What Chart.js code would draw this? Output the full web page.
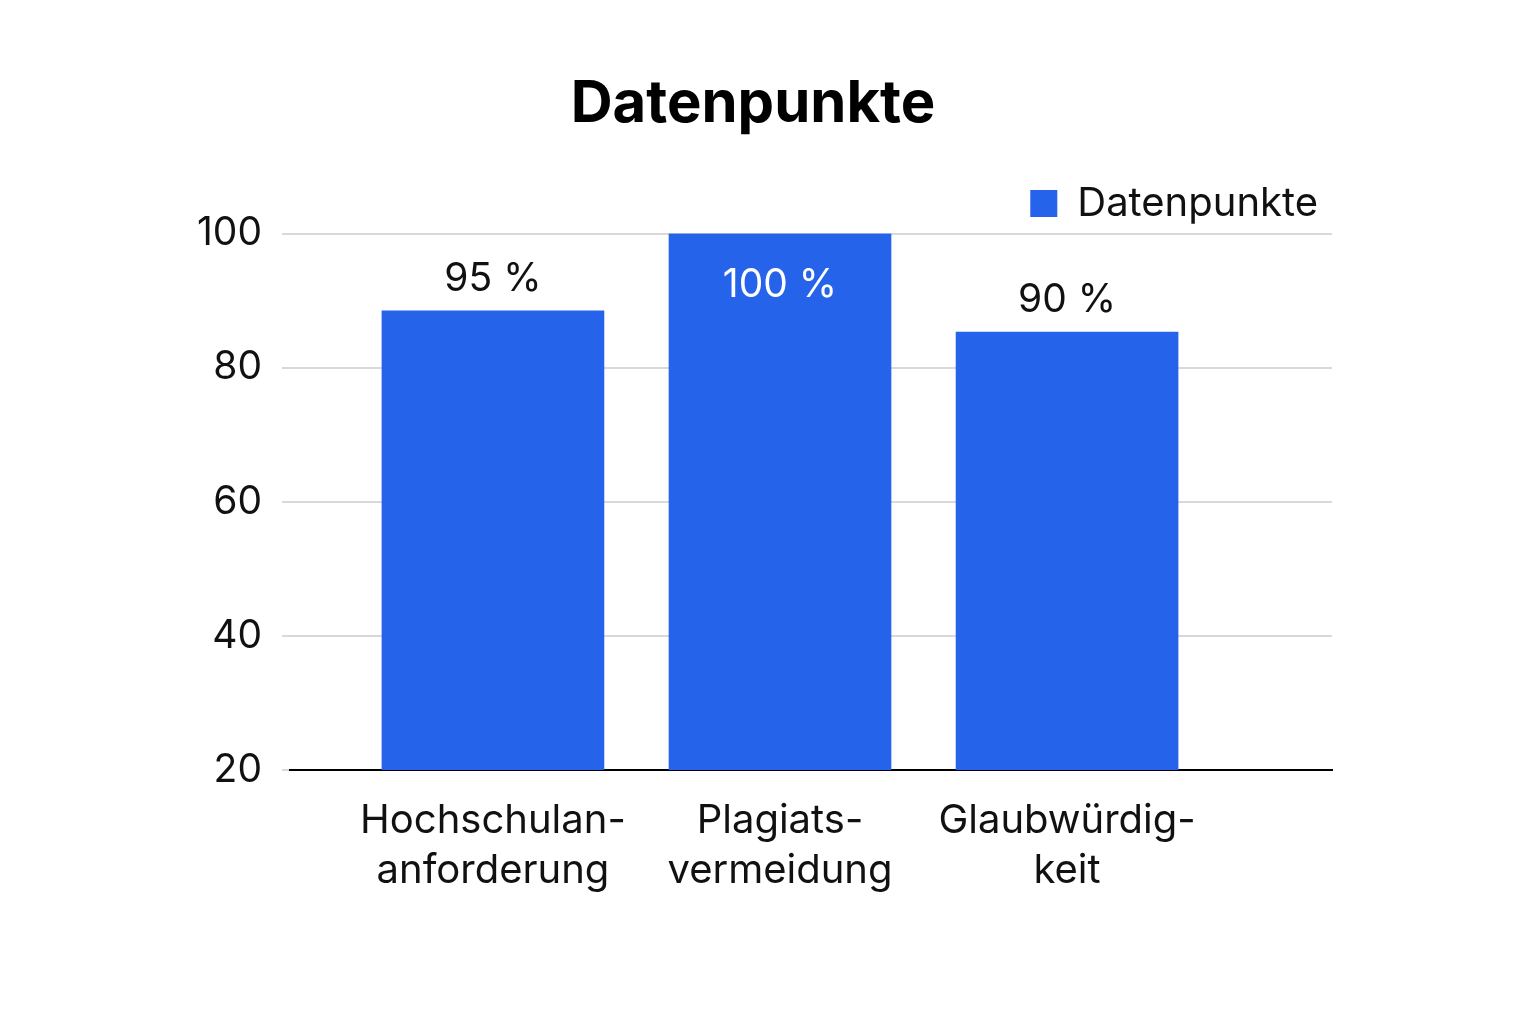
<!DOCTYPE html>
<html><head><meta charset="utf-8">
<script src="https://cdn.jsdelivr.net/npm/chart.js@4"></script>
<style>html,body{margin:0;background:#fff}#w{width:1536px;height:1024px}</style>
</head><body><div id="w"><canvas id="c"></canvas></div>
<script>
const categories = [["Hochschulan-","anforderung"],["Plagiats-","vermeidung"],["Glaubwürdig-","keit"]];
const values = [88.5, 100, 85.3];
const valueLabels = ["95 %","100 %","90 %"];
const yTicks = [20,40,60,80,100];
const F = "Inter, 'Noto Sans', sans-serif";
const labelPlugin = {id:'lbl', afterDatasetsDraw(ch){
  const ctx=ch.ctx, meta=ch.getDatasetMeta(0);
  ctx.save(); ctx.font="39px "+F; ctx.textAlign='center';
  meta.data.forEach((b,i)=>{
    const inside = values[i]>=99;
    ctx.fillStyle = inside?'#fff':'#111';
    ctx.textBaseline = inside?'top':'bottom';
    ctx.fillText(valueLabels[i], b.x, inside? b.y+32 : b.y-12);
  }); ctx.restore();}};
new Chart(document.getElementById('c'),{
  type:'bar',
  data:{datasets:[{label:'Datenpunkte',data:values.map((v,i)=>({x:i,y:v})),backgroundColor:'#2563EB',barThickness:222}]},
  options:{responsive:true,maintainAspectRatio:false,animation:false,
    layout:{padding:{left:174,right:204,top:60,bottom:110}},
    plugins:{
      title:{display:true,text:'Datenpunkte',font:{family:F,size:58,weight:'bold'},color:'#000',padding:{top:10,bottom:30}},
      legend:{position:'top',align:'end',labels:{font:{family:F,size:40},color:'#111',boxWidth:27,boxHeight:27,padding:14}},
      tooltip:{enabled:false}},
    scales:{
      x:{type:'linear',min:-0.707,max:2.923,offset:false,
        afterBuildTicks(s){s.ticks=[0,1,2].map(v=>({value:v}));},
        ticks:{callback:v=>categories[v],font:{family:F,size:40,lineHeight:1.25},color:'#111',padding:18,maxRotation:0,autoSkip:false},
        grid:{display:false},border:{display:true,color:'#000',width:2}},
      y:{min:20,max:100,
        afterBuildTicks(s){s.ticks=yTicks.map(v=>({value:v}));},
        afterFit(s){s.width=116;},
        ticks:{font:{family:F,size:39},color:'#111',padding:20},
        grid:{color:'#d9d9d9',lineWidth:2},border:{display:false}}
    }},
  plugins:[labelPlugin]});
</script></body></html>
